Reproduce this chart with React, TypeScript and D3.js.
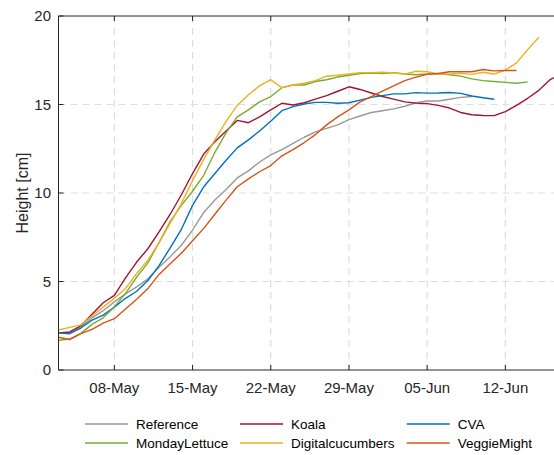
import React from "react";
import * as d3 from "d3";

const startDate = new Date(2021, 4, 3);
const tickDates = ["2021-05-08", "2021-05-15", "2021-05-22", "2021-05-29", "2021-06-05", "2021-06-12"];
const yTicks = [0, 5, 10, 15, 20];

const reference = [2.1,2.1,2.45,2.95,3.35,3.85,4.3,4.7,5.15,5.8,6.4,7.05,7.9,8.9,9.6,10.2,10.85,11.25,11.75,12.15,12.45,12.8,13.15,13.45,13.65,13.85,14.15,14.35,14.55,14.65,14.75,14.9,15.1,15.2,15.2,15.3,15.4,15.45];
const koala = [2.1,2.15,2.5,3.15,3.8,4.22,5.2,6.1,6.85,7.8,8.8,9.9,11.1,12.2,12.9,13.5,14.1,13.97,14.3,14.7,15.07,14.97,15.1,15.3,15.5,15.75,16.0,15.85,15.65,15.45,15.3,15.15,15.08,15.05,14.95,14.8,14.55,14.42,14.38,14.37,14.6,14.95,15.35,15.8,16.4,16.7];
const cva = [2.1,2.05,2.37,2.82,3.1,3.55,4.05,4.45,5.05,5.9,6.9,7.95,9.3,10.35,11.1,11.85,12.55,13.0,13.5,14.05,14.65,14.88,15.03,15.12,15.12,15.07,15.1,15.25,15.4,15.5,15.6,15.6,15.67,15.64,15.65,15.68,15.63,15.48,15.38,15.3];
const mondayLettuce = [1.68,1.75,2.07,2.58,2.95,3.58,4.33,5.25,6.05,7.2,8.4,9.3,10.1,11.0,12.3,13.4,14.3,14.7,15.15,15.45,15.95,16.1,16.1,16.3,16.4,16.55,16.65,16.75,16.78,16.75,16.8,16.72,16.68,16.72,16.75,16.68,16.6,16.45,16.35,16.3,16.25,16.2,16.28];
const digitalcucumbers = [2.26,2.41,2.55,3.05,3.55,4.05,4.6,5.45,6.2,7.2,8.3,9.4,10.7,11.9,13.0,14.05,14.95,15.55,16.05,16.4,15.95,16.1,16.2,16.35,16.6,16.65,16.72,16.8,16.8,16.82,16.78,16.72,16.88,16.85,16.72,16.72,16.76,16.7,16.82,16.72,16.95,17.35,18.1,18.8];
const veggieMight = [1.85,1.72,2.05,2.3,2.65,2.9,3.45,4.0,4.6,5.4,6.0,6.6,7.3,8.0,8.8,9.6,10.35,10.8,11.2,11.55,12.1,12.45,12.85,13.3,13.85,14.3,14.7,15.15,15.45,15.75,16.05,16.35,16.55,16.7,16.75,16.85,16.85,16.85,16.98,16.9,16.92,16.92];

const seriesNames = ["Reference", "Koala", "CVA", "MondayLettuce", "Digitalcucumbers", "VeggieMight"];
const seriesValues = [reference, koala, cva, mondayLettuce, digitalcucumbers, veggieMight];
const seriesColors = ["#999999", "#A2142F", "#0072BD", "#77AC30", "#EDB120", "#D95319"];

const W = 554, H = 455;
const left = 58.5, top = 16, bottom = 370, right = 561.2;
const axisColor = "#262626";
const font = "'Liberation Sans', Arial, Helvetica, sans-serif";

export default function App() {
  const x = d3.scaleTime().domain([startDate, d3.timeDay.offset(startDate, 45)]).range([left, right]);
  const y = d3.scaleLinear().domain([0, 20]).range([bottom, top]);
  const fmt = d3.timeFormat("%d-%b");
  const ticks = tickDates.map((s) => d3.timeParse("%Y-%m-%d")(s) as Date);
  const line = d3.line<number>()
    .x((_, i) => x(d3.timeDay.offset(startDate, i)))
    .y((v) => y(v));

  const legendCols = [85, 240, 406.7];
  const legendRows = [424, 443];

  return (
    <svg width={W} height={H} style={{ position: "absolute", left: 0, top: 0, background: "#fff" }} fontFamily={font}>
      <defs>
        <clipPath id="plotclip">
          <rect x={left} y={top} width={right - left} height={bottom - top} />
        </clipPath>
      </defs>
      <rect x={0} y={0} width={W} height={H} fill="#fff" />
      {/* grid */}
      {ticks.map((t, i) => (
        <line key={"gx" + i} x1={x(t)} x2={x(t)} y1={top} y2={bottom} stroke="#dedede" strokeWidth={1.2} strokeDasharray="7,5" />
      ))}
      {yTicks.slice(1, -1).map((v, i) => (
        <line key={"gy" + i} x1={left} x2={right} y1={y(v)} y2={y(v)} stroke="#dedede" strokeWidth={1.2} strokeDasharray="7,5" />
      ))}
      {/* series */}
      <g clipPath="url(#plotclip)">
        {seriesValues.map((vals, i) => (
          <path key={seriesNames[i]} d={line(vals) || ""} fill="none" stroke={seriesColors[i]} strokeWidth={1.4} strokeLinejoin="round" />
        ))}
      </g>
      {/* axes box */}
      <line x1={left} x2={right} y1={top} y2={top} stroke={axisColor} strokeWidth={1} />
      <line x1={left} x2={right} y1={bottom} y2={bottom} stroke={axisColor} strokeWidth={1} />
      <line x1={left} x2={left} y1={top} y2={bottom} stroke={axisColor} strokeWidth={1} />
      {ticks.map((t, i) => (
        <g key={"tx" + i}>
          <line x1={x(t)} x2={x(t)} y1={bottom} y2={bottom - 5} stroke={axisColor} />
          <line x1={x(t)} x2={x(t)} y1={top} y2={top + 5} stroke={axisColor} />
          <text x={x(t)} y={393} textAnchor="middle" fontSize={15} fill={axisColor}>{fmt(t)}</text>
        </g>
      ))}
      {yTicks.map((v, i) => (
        <g key={"ty" + i}>
          <line x1={left} x2={left + 5} y1={y(v)} y2={y(v)} stroke={axisColor} />
          <text x={51} y={y(v)} dy="0.36em" textAnchor="end" fontSize={15} fill={axisColor}>{v}</text>
        </g>
      ))}
      <text transform={`translate(22,${(top + bottom) / 2}) rotate(-90)`} textAnchor="middle" dy="0.36em" fontSize={16} fill={axisColor}>Height [cm]</text>
      {/* legend */}
      {seriesNames.map((n, i) => {
        const cx = legendCols[i % 3];
        const cy = legendRows[Math.floor(i / 3)];
        return (
          <g key={"lg" + i}>
            <line x1={cx} x2={cx + 43} y1={cy} y2={cy} stroke={seriesColors[i]} strokeWidth={1.4} />
            <text x={cx + 51} y={cy} dy="0.36em" fontSize={13.5} fill="#000">{n}</text>
          </g>
        );
      })}
    </svg>
  );
}
